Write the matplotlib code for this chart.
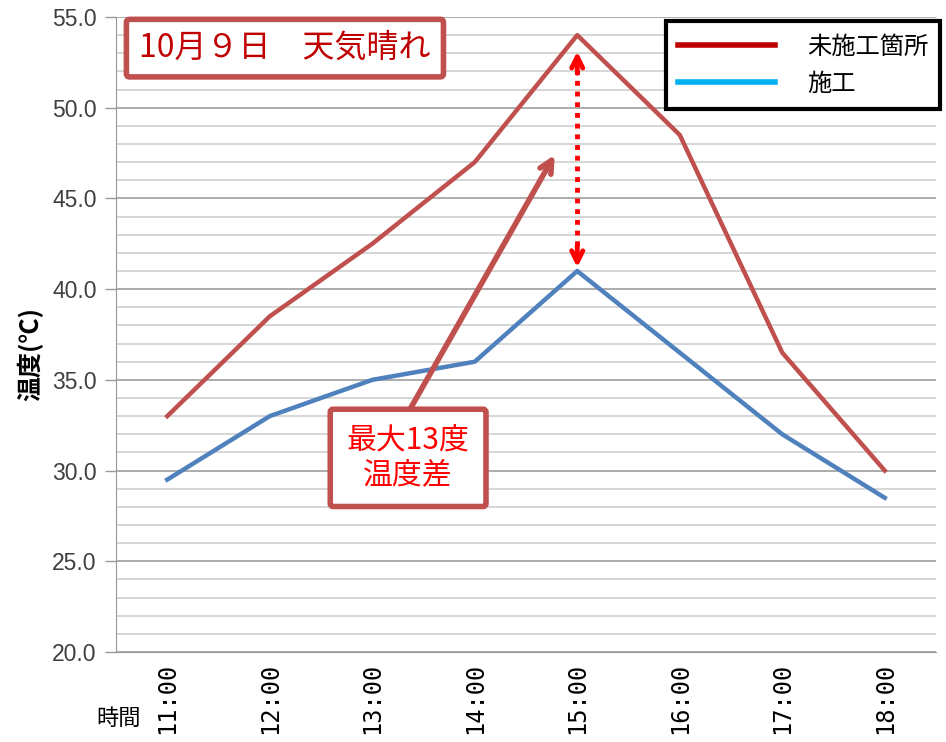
import matplotlib as mpl
import matplotlib.pyplot as plt
from matplotlib.lines import Line2D


# data
times = ["11:00", "12:00", "13:00", "14:00", "15:00", "16:00", "17:00", "18:00"]
untreated = [33.0, 38.5, 42.5, 47.0, 54.0, 48.5, 36.5, 30.0]
treated = [29.5, 33.0, 35.0, 36.0, 41.0, 36.5, 32.0, 28.5]
series_names = ["未施工箇所", "施工"]
title_text = "10月９日　天気晴れ"
note_text = "最大13度\n温度差"

JP = ["Noto Sans CJK JP", "DejaVu Sans"]
plt.rcParams["font.family"] = JP

fig = plt.figure(figsize=(9.46, 7.42), dpi=100)
ax = fig.add_axes([116 / 946, 90 / 742, 820 / 946, 635 / 742])

x = list(range(len(times)))
ax.plot(x, untreated, color="#C0504D", lw=3.2, zorder=3)
ax.plot(x, treated, color="#4F81BD", lw=3.2, zorder=3)

ax.set_xlim(-0.5, len(times) - 0.5)
ax.set_ylim(20, 55)
ax.set_yticks([20, 25, 30, 35, 40, 45, 50, 55])
ax.set_yticks(range(20, 56), minor=True)
ax.set_yticklabels([f"{v:.1f}" for v in ax.get_yticks()],
                   family="Liberation Sans", fontsize=16.5, color="#404040")
ax.tick_params(axis="y", which="major", length=8, width=1, color="#999999", pad=6)
ax.tick_params(axis="y", which="minor", length=0)
ax.grid(axis="y", which="major", color="#A6A6A6", lw=1.3)
ax.grid(axis="y", which="minor", color="#CFCFCF", lw=1.2)
ax.set_axisbelow(True)

ax.set_xticks(x)
ax.set_xticklabels(times, rotation=90, family="DejaVu Sans Mono", fontsize=17)
ax.tick_params(axis="x", length=0, pad=8)

for side in ["top", "right"]:
    ax.spines[side].set_visible(False)
ax.spines["left"].set_color("#999999")
ax.spines["bottom"].set_color("#999999")

ax.set_ylabel("温度(℃)", fontsize=18, fontweight="bold")
ax.yaxis.set_label_coords(-0.088, 0.47)
fig.text(96 / 946, 1 - 718 / 742, "時間", fontsize=16, va="center", ha="left")

# legend (colours differ from the lines, as in the original)
handles = [Line2D([], [], color="#C00000", lw=4), Line2D([], [], color="#00B0F0", lw=4)]
leg = ax.legend(handles, series_names, loc="upper right", bbox_to_anchor=(1.005, 0.993),
                borderaxespad=0, fancybox=False, edgecolor="black", fontsize=17.5,
                handlelength=4.0, handletextpad=1.3, labelspacing=0.45,
                borderpad=0.5, framealpha=1)
leg.get_frame().set_linewidth(3)

# title box
ax.text(0.206, 0.951, title_text, transform=ax.transAxes, ha="center", va="center",
        fontsize=23, color="#C00000",
        bbox=dict(boxstyle="round,pad=0.4,rounding_size=0.1", fc="white",
                  ec="#C0504D", lw=4))

# callout with arrow
ax.annotate("", xy=(3.78, 47.4), xytext=(2.35, 33.2),
            arrowprops=dict(arrowstyle="->,head_length=0.9,head_width=0.45",
                            color="#C0504D", lw=4, shrinkA=0, shrinkB=0), zorder=4)
ax.text(2.35, 30.7, note_text, ha="center", va="center", fontsize=21.5, color="#FF0000",
        linespacing=1.1, zorder=5,
        bbox=dict(boxstyle="round,pad=0.55,rounding_size=0.1", fc="white",
                  ec="#C0504D", lw=4))

# dotted double arrow between the two series at 15:00
peak = untreated.index(max(untreated))
top = untreated[peak] - 0.9
bottom = treated[peak] + 0.2
ax.plot([peak, peak], [top - 0.4, bottom + 0.4], color="#FF0000", lw=3.5,
        ls=(0, (1, 1.2)), zorder=4)
for tip, tail in [(top, top - 1.2), (bottom, bottom + 1.2)]:
    ax.annotate("", xy=(peak, tip), xytext=(peak, tail),
                arrowprops=dict(arrowstyle="->,head_length=0.8,head_width=0.4",
                                color="#FF0000", lw=3.5, shrinkA=0, shrinkB=0),
                zorder=4)

fig.savefig("out.png", dpi=100)
